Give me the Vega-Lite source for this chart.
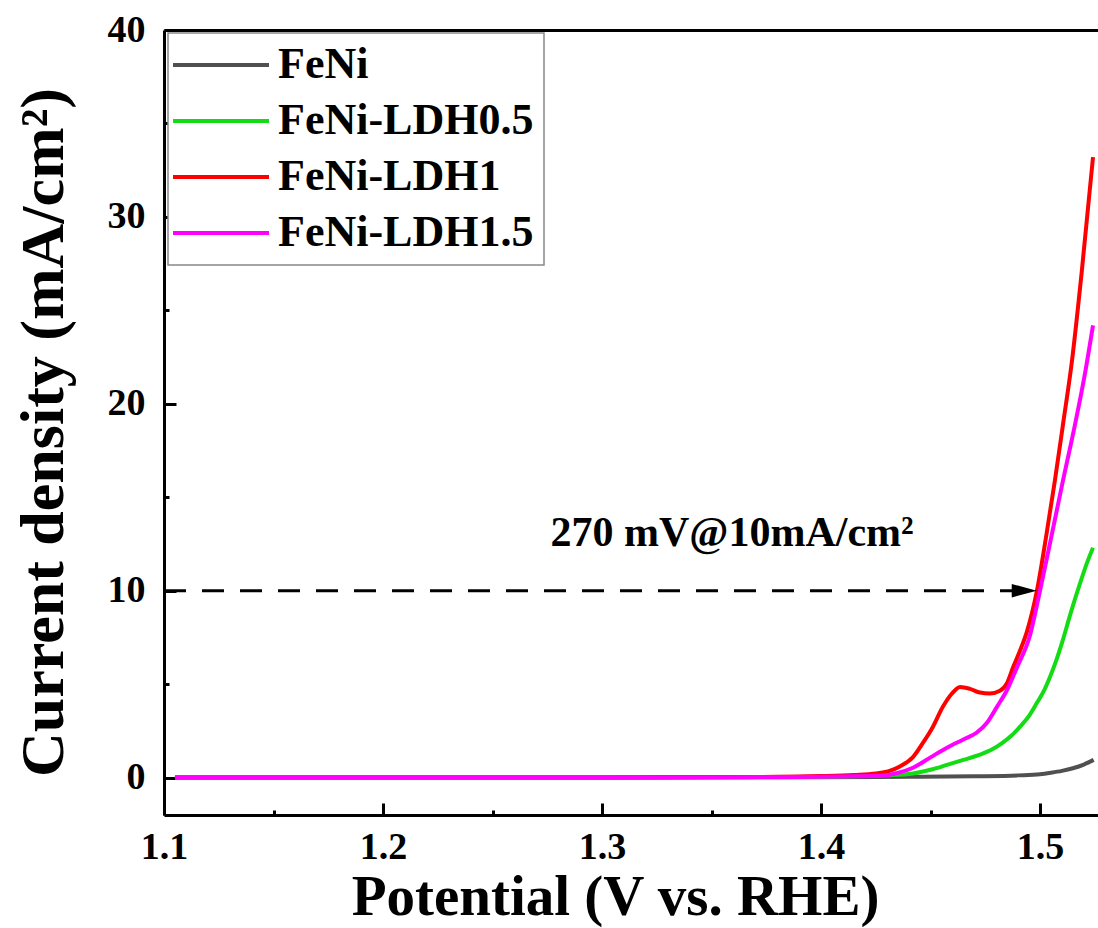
{
  "$schema": "https://vega.github.io/schema/vega-lite/v6.json",
  "width": 934,
  "height": 785,
  "autosize": {"type": "none"},
  "padding": {"left": 164, "top": 30, "right": 0, "bottom": 113},
  "background": "white",
  "config": {
    "view": {"stroke": null},
    "font": "Liberation Serif",
    "legend": {"strokeWidth": 1.5},
    "axis": {
      "domainColor": "black", "domainWidth": 3, "tickColor": "black", "tickWidth": 3,
      "labelFont": "Liberation Serif", "labelFontWeight": "bold", "labelFontSize": 38, "labelColor": "black",
      "titleFont": "Liberation Serif", "titleFontWeight": "bold", "titleFontSize": 57, "titleColor": "black",
      "grid": false, "labelFlush": false, "labelOverlap": false
    }
  },
  "datasets": {
    "curves": [
      {"s": "FeNi", "x": 1.105, "y": 0}, {"s": "FeNi", "x": 1.2, "y": 0}, {"s": "FeNi", "x": 1.3, "y": 0}, {"s": "FeNi", "x": 1.4, "y": 0.02}, {"s": "FeNi", "x": 1.44, "y": 0.04}, {"s": "FeNi", "x": 1.47, "y": 0.07}, {"s": "FeNi", "x": 1.49, "y": 0.12}, {"s": "FeNi", "x": 1.5, "y": 0.18}, {"s": "FeNi", "x": 1.505, "y": 0.26}, {"s": "FeNi", "x": 1.51, "y": 0.36}, {"s": "FeNi", "x": 1.515, "y": 0.5}, {"s": "FeNi", "x": 1.52, "y": 0.7}, {"s": "FeNi", "x": 1.5245, "y": 0.95},
      {"s": "FeNi-LDH0.5", "x": 1.105, "y": 0}, {"s": "FeNi-LDH0.5", "x": 1.2, "y": 0}, {"s": "FeNi-LDH0.5", "x": 1.3, "y": 0}, {"s": "FeNi-LDH0.5", "x": 1.38, "y": 0.02}, {"s": "FeNi-LDH0.5", "x": 1.41, "y": 0.06}, {"s": "FeNi-LDH0.5", "x": 1.43, "y": 0.12}, {"s": "FeNi-LDH0.5", "x": 1.442, "y": 0.22}, {"s": "FeNi-LDH0.5", "x": 1.45, "y": 0.42}, {"s": "FeNi-LDH0.5", "x": 1.4575, "y": 0.68}, {"s": "FeNi-LDH0.5", "x": 1.465, "y": 0.95}, {"s": "FeNi-LDH0.5", "x": 1.4726, "y": 1.23}, {"s": "FeNi-LDH0.5", "x": 1.478, "y": 1.5}, {"s": "FeNi-LDH0.5", "x": 1.483, "y": 1.87}, {"s": "FeNi-LDH0.5", "x": 1.487, "y": 2.25}, {"s": "FeNi-LDH0.5", "x": 1.4909, "y": 2.73}, {"s": "FeNi-LDH0.5", "x": 1.495, "y": 3.3}, {"s": "FeNi-LDH0.5", "x": 1.4986, "y": 4.0}, {"s": "FeNi-LDH0.5", "x": 1.502, "y": 4.7}, {"s": "FeNi-LDH0.5", "x": 1.5046, "y": 5.4}, {"s": "FeNi-LDH0.5", "x": 1.5075, "y": 6.3}, {"s": "FeNi-LDH0.5", "x": 1.51, "y": 7.2}, {"s": "FeNi-LDH0.5", "x": 1.514, "y": 8.8}, {"s": "FeNi-LDH0.5", "x": 1.5183, "y": 10.4}, {"s": "FeNi-LDH0.5", "x": 1.5215, "y": 11.5}, {"s": "FeNi-LDH0.5", "x": 1.5242, "y": 12.3},
      {"s": "FeNi-LDH1", "x": 1.105, "y": 0}, {"s": "FeNi-LDH1", "x": 1.2, "y": 0}, {"s": "FeNi-LDH1", "x": 1.3, "y": 0.01}, {"s": "FeNi-LDH1", "x": 1.38, "y": 0.04}, {"s": "FeNi-LDH1", "x": 1.4, "y": 0.08}, {"s": "FeNi-LDH1", "x": 1.415, "y": 0.14}, {"s": "FeNi-LDH1", "x": 1.425, "y": 0.22}, {"s": "FeNi-LDH1", "x": 1.431, "y": 0.35}, {"s": "FeNi-LDH1", "x": 1.436, "y": 0.6}, {"s": "FeNi-LDH1", "x": 1.442, "y": 1.1}, {"s": "FeNi-LDH1", "x": 1.4466, "y": 1.87}, {"s": "FeNi-LDH1", "x": 1.451, "y": 2.7}, {"s": "FeNi-LDH1", "x": 1.4557, "y": 3.8}, {"s": "FeNi-LDH1", "x": 1.4598, "y": 4.5}, {"s": "FeNi-LDH1", "x": 1.4635, "y": 4.85}, {"s": "FeNi-LDH1", "x": 1.468, "y": 4.75}, {"s": "FeNi-LDH1", "x": 1.4726, "y": 4.55}, {"s": "FeNi-LDH1", "x": 1.477, "y": 4.5}, {"s": "FeNi-LDH1", "x": 1.4817, "y": 4.65}, {"s": "FeNi-LDH1", "x": 1.485, "y": 5.07}, {"s": "FeNi-LDH1", "x": 1.4877, "y": 5.9}, {"s": "FeNi-LDH1", "x": 1.4909, "y": 6.8}, {"s": "FeNi-LDH1", "x": 1.494, "y": 7.8}, {"s": "FeNi-LDH1", "x": 1.4986, "y": 10.0}, {"s": "FeNi-LDH1", "x": 1.5028, "y": 12.9}, {"s": "FeNi-LDH1", "x": 1.5068, "y": 15.9}, {"s": "FeNi-LDH1", "x": 1.5105, "y": 18.9}, {"s": "FeNi-LDH1", "x": 1.5146, "y": 22.3}, {"s": "FeNi-LDH1", "x": 1.519, "y": 27.0}, {"s": "FeNi-LDH1", "x": 1.5242, "y": 33.2},
      {"s": "FeNi-LDH1.5", "x": 1.105, "y": 0}, {"s": "FeNi-LDH1.5", "x": 1.2, "y": 0}, {"s": "FeNi-LDH1.5", "x": 1.3, "y": 0}, {"s": "FeNi-LDH1.5", "x": 1.38, "y": 0.03}, {"s": "FeNi-LDH1.5", "x": 1.41, "y": 0.06}, {"s": "FeNi-LDH1.5", "x": 1.427, "y": 0.1}, {"s": "FeNi-LDH1.5", "x": 1.435, "y": 0.25}, {"s": "FeNi-LDH1.5", "x": 1.442, "y": 0.53}, {"s": "FeNi-LDH1.5", "x": 1.4498, "y": 1.07}, {"s": "FeNi-LDH1.5", "x": 1.4575, "y": 1.6}, {"s": "FeNi-LDH1.5", "x": 1.4648, "y": 2.03}, {"s": "FeNi-LDH1.5", "x": 1.471, "y": 2.4}, {"s": "FeNi-LDH1.5", "x": 1.4758, "y": 2.94}, {"s": "FeNi-LDH1.5", "x": 1.4804, "y": 3.8}, {"s": "FeNi-LDH1.5", "x": 1.485, "y": 4.7}, {"s": "FeNi-LDH1.5", "x": 1.4895, "y": 5.9}, {"s": "FeNi-LDH1.5", "x": 1.4954, "y": 7.6}, {"s": "FeNi-LDH1.5", "x": 1.5, "y": 10.0}, {"s": "FeNi-LDH1.5", "x": 1.5052, "y": 12.9}, {"s": "FeNi-LDH1.5", "x": 1.5105, "y": 15.9}, {"s": "FeNi-LDH1.5", "x": 1.516, "y": 18.9}, {"s": "FeNi-LDH1.5", "x": 1.5205, "y": 21.6}, {"s": "FeNi-LDH1.5", "x": 1.5242, "y": 24.2}
    ],
    "arrow": [{"x": 1.1, "x2": 1.4985, "y": 10}],
    "tip": [{"x": 1.4985, "y": 10}],
    "note": [{"x": 1.3594, "y": 12.4, "label": "270 mV@10mA/cm²"}]
  },
  "layer": [
    {
      "data": {"name": "curves"},
      "mark": {"type": "line", "strokeWidth": 4, "interpolate": "monotone", "clip": true},
      "encoding": {
        "x": {"field": "x", "type": "quantitative",
          "scale": {"domain": [1.1, 1.52648], "nice": false, "zero": false},
          "axis": {"orient": "bottom", "values": [1.1, 1.2, 1.3, 1.4, 1.5], "format": ".1f", "tickSize": -12, "labelPadding": 25,
            "title": "Potential (V vs. RHE)", "titleX": 451, "titleY": 99, "titleBaseline": "alphabetic", "titleAlign": "center"}},
        "y": {"field": "y", "type": "quantitative",
          "scale": {"domain": [-2, 40], "nice": false, "zero": false},
          "axis": {"orient": "left", "values": [0, 10, 20, 30, 40], "format": "d", "tickSize": -12, "labelPadding": 31,
            "title": "Current density (mA/cm²)", "titleFontSize": 62, "titleX": -102, "titleY": 402, "titleBaseline": "alphabetic", "titleAlign": "center", "titleAngle": 270}},
        "color": {"field": "s", "type": "nominal",
          "scale": {"domain": ["FeNi", "FeNi-LDH0.5", "FeNi-LDH1", "FeNi-LDH1.5"], "range": ["#505050", "#14dc14", "#ff0000", "#ff00ff"]},
          "legend": {"orient": "none", "legendX": 4, "legendY": 3, "title": null, "symbolType": "M -3 0 L 3 0", "symbolSize": 1024, "symbolStrokeWidth": 4,
            "labelFontSize": 44, "labelFont": "Liberation Serif", "labelFontWeight": "bold", "labelColor": "black", "labelOffset": 35, "rowPadding": 12,
            "padding": 10, "strokeColor": "#888888", "fillColor": "white", "symbolOffset": 21, "labelLimit": 500}}
      }
    },
    {
      "data": {"name": "arrow"},
      "mark": {"type": "rule", "strokeDash": [22, 16], "strokeWidth": 3, "color": "black"},
      "encoding": {
        "x": {"field": "x", "type": "quantitative",
          "axis": {"orient": "bottom", "values": [1.15, 1.25, 1.35, 1.45], "tickSize": -5, "labels": false, "title": null, "domain": false}},
        "x2": {"field": "x2"},
        "y": {"field": "y", "type": "quantitative",
          "axis": {"orient": "left", "values": [5, 15, 25, 35], "tickSize": -5, "labels": false, "title": null, "domain": false}}
      }
    },
    {
      "data": {"name": "tip"},
      "mark": {"type": "point", "shape": "M -1 -0.27 L 0 0 L -1 0.27 Z", "size": 2500, "filled": true, "color": "black", "opacity": 1},
      "encoding": {
        "x": {"field": "x", "type": "quantitative",
          "axis": {"orient": "top", "ticks": false, "labels": false, "title": null, "domain": true}},
        "y": {"field": "y", "type": "quantitative", "axis": null}
      }
    },
    {
      "data": {"name": "note"},
      "mark": {"type": "text", "font": "Liberation Serif", "fontWeight": "bold", "fontSize": 42, "align": "center", "baseline": "alphabetic", "color": "black"},
      "encoding": {
        "x": {"field": "x", "type": "quantitative", "axis": null},
        "y": {"field": "y", "type": "quantitative", "axis": null},
        "text": {"field": "label"}
      }
    }
  ],
  "resolve": {"axis": {"x": "independent", "y": "independent"}}
}
